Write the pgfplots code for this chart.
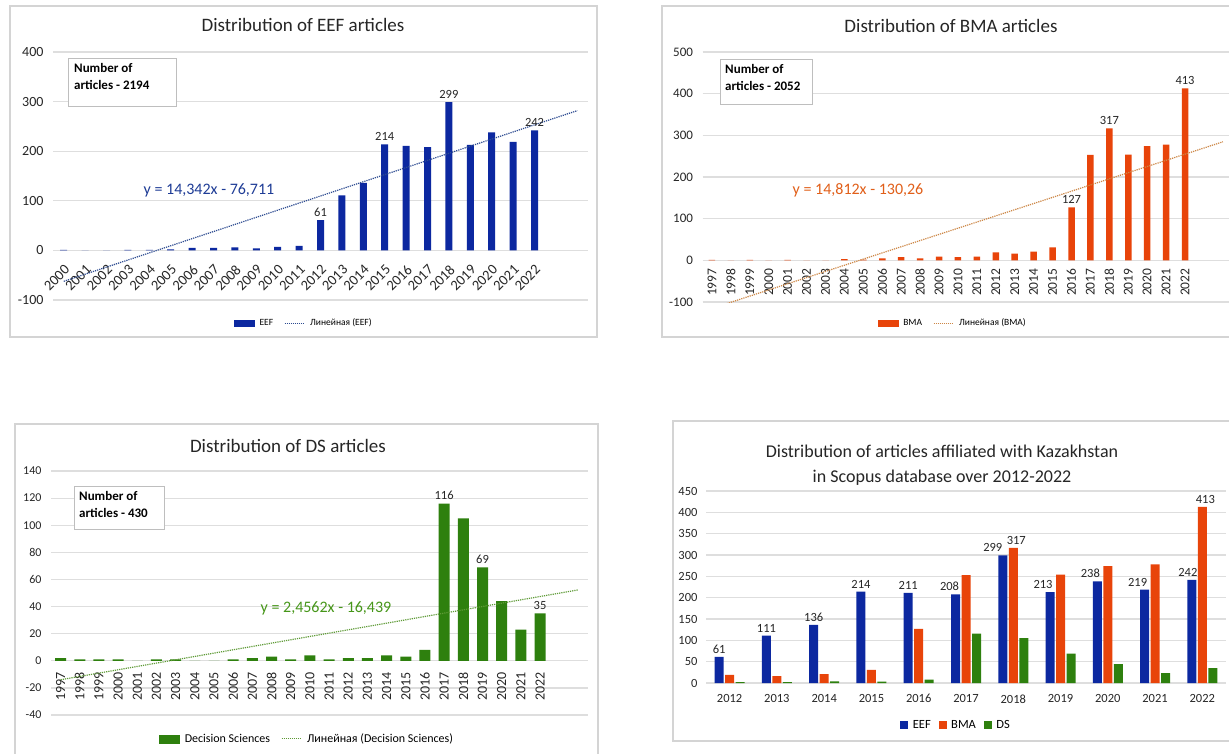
\documentclass[border=0pt]{standalone}
\usepackage{pgfplots}
\pgfplotsset{compat=1.18}
\usepackage{pgfplotstable}
\usepackage{fontspec}
\setmainfont{Carlito}

\definecolor{eefblue}{RGB}{12,40,160}
\definecolor{bmaor}{RGB}{232,68,10}
\definecolor{dsgreen}{RGB}{46,128,14}
\definecolor{eeftr}{RGB}{45,75,145}
\definecolor{bmatr}{RGB}{205,135,70}
\definecolor{dstr}{RGB}{95,155,55}
\definecolor{eefeq}{RGB}{30,60,150}
\definecolor{bmaeq}{RGB}{225,95,25}
\definecolor{dseq}{RGB}{70,150,25}
\definecolor{gridc}{RGB}{222,222,222}
\definecolor{framec}{RGB}{212,212,212}
\definecolor{boxc}{RGB}{190,190,190}

\pgfplotstableread{
x y s
2000 1 0
2001 0 0
2002 0 0
2003 1 0
2004 1 0
2005 2 0
2006 5 0
2007 5 0
2008 6 0
2009 4 0
2010 7 0
2011 9 0
2012 61 1
2013 111 0
2014 136 0
2015 214 1
2016 211 0
2017 208 0
2018 299 1
2019 213 0
2020 238 0
2021 219 0
2022 242 1
}\eeftab

\pgfplotstableread{
x y s
1997 1 0
1998 0 0
1999 1 0
2000 0 0
2001 1 0
2002 0 0
2003 0 0
2004 3 0
2005 2 0
2006 5 0
2007 8 0
2008 5 0
2009 9 0
2010 8 0
2011 9 0
2012 19 0
2013 16 0
2014 21 0
2015 31 0
2016 127 1
2017 253 0
2018 317 1
2019 254 0
2020 274 0
2021 278 0
2022 413 1
}\bmatab

\pgfplotstableread{
x y s
1997 2 0
1998 1 0
1999 1 0
2000 1 0
2001 0 0
2002 1 0
2003 1 0
2004 0 0
2005 0 0
2006 1 0
2007 2 0
2008 3 0
2009 1 0
2010 4 0
2011 1 0
2012 2 0
2013 2 0
2014 4 0
2015 3 0
2016 8 0
2017 116 1
2018 105 0
2019 69 1
2020 44 0
2021 23 0
2022 35 1
}\dstab

\pgfplotstableread{
x eef bma ds bs dx
2012 61 19 2 0 -10.5
2013 111 16 2 0 -10.5
2014 136 21 4 0 -10.5
2015 214 31 3 0 -10.5
2016 211 127 8 0 -10.5
2017 208 253 116 0 -16.5
2018 299 317 105 1 -20.5
2019 213 254 69 0 -17.5
2020 238 274 44 0 -17.5
2021 219 278 23 0 -17.5
2022 242 413 35 1 -14.5
}\alltab

\pgfplotsset{
  base/.style={
    scale only axis, enlargelimits=false, clip=true,
    anchor=south west,
    axis line style={draw=none}, tick style={draw=none}, major tick length=0pt,
    ymajorgrids, major grid style={gridc, line width=1.2pt},
    /pgf/number format/.cd, 1000 sep={}, assume math mode=true, /pgfplots/.cd,
    ticklabel style={text=black!85},
    every node near coord/.append style={font=\fontsize{12.5}{15}\selectfont, text=black!85},
    legend style={draw=none, fill=none, anchor=center, legend columns=-1,
      /tikz/every odd column/.append style={column sep=3pt},
      /tikz/every even column/.append style={column sep=9pt}},
    legend cell align=left,
  },
  lab/.style 2 args={point meta={\thisrow{#1}*\thisrow{#2}},
    nodes near coords={\pgfmathfloatifflags{\pgfplotspointmeta}{0}{}{\pgfmathprintnumber{\pgfplotspointmeta}}}},
}

\begin{document}
\begin{tikzpicture}
\useasboundingbox (0pt,0pt) rectangle (1229pt,-753pt);
\fill[white] (0pt,0pt) rectangle (1229pt,-753pt);
\draw[framec, line width=1.2pt] (10pt,-6pt) rectangle (597pt,-337pt);
\draw[framec, line width=1.2pt] (662pt,-6pt) rectangle (1245pt,-337pt);
\draw[framec, line width=1.2pt] (15pt,-424pt) rectangle (598pt,-765pt);
\draw[framec, line width=1.2pt] (673pt,-421pt) rectangle (1245pt,-741pt);

% ---------------- EEF ----------------
\begin{axis}[base, at={(53pt,-300pt)}, width=535pt, height=248pt,
  xmin=1999.5, xmax=2024.5, ymin=-100, ymax=400, ytick={-100,0,...,400},
  xtick={2000,...,2022},
  xticklabel style={rotate=45, anchor=north east, font=\fontsize{14.5}{16}\selectfont},
  xticklabel shift=-41pt,
  yticklabel style={font=\fontsize{14}{16}\selectfont},
  yticklabel shift=6pt,
  legend style={at={(0.469,-0.093)}, font=\fontsize{9.5}{11}\selectfont},
]
\addlegendimage{legend image code/.code={\fill[eefblue] (0pt,-3pt) rectangle (20pt,3pt);}}
\addlegendentry{EEF}
\addlegendimage{legend image code/.code={\draw[eeftr, densely dotted, line width=1pt] (0pt,0pt) -- (20pt,0pt);}}
\addlegendentry{Линейная (EEF)}
\addplot[ybar, bar width=7pt, bar shift=0pt, fill=eefblue, draw=none, forget plot, lab={y}{s}] table[x=x,y=y]{\eeftab};
\addplot[eeftr, densely dotted, line width=1.2pt, forget plot] coordinates {(2000,-62.369) (2024,281.839)};
\end{axis}

% ---------------- BMA ----------------
\begin{axis}[base, at={(702.5pt,-302pt)}, width=527pt, height=250pt,
  xmin=1996.5, xmax=2024.35, ymin=-100, ymax=500, ytick={-100,0,...,500},
  xtick={1997,...,2022},
  xticklabel style={rotate=90, anchor=east, font=\fontsize{13.5}{15}\selectfont},
  xticklabel shift=-37pt,
  yticklabel style={font=\fontsize{13}{15}\selectfont},
  yticklabel shift=6pt,
  legend style={at={(0.475,-0.084)}, font=\fontsize{9.5}{11}\selectfont},
]
\addlegendimage{legend image code/.code={\fill[bmaor] (0pt,-3pt) rectangle (20pt,3pt);}}
\addlegendentry{BMA}
\addlegendimage{legend image code/.code={\draw[bmatr, densely dotted, line width=1pt] (0pt,0pt) -- (20pt,0pt);}}
\addlegendentry{Линейная (BMA)}
\addplot[ybar, bar width=6.5pt, bar shift=0pt, fill=bmaor, draw=none, forget plot, lab={y}{s}] table[x=x,y=y]{\bmatab};
\addplot[bmatr, densely dotted, line width=1.2pt, forget plot] coordinates {(1997,-115.448) (2024,284.476)};
\end{axis}

% ---------------- DS ----------------
\begin{axis}[base, at={(51pt,-715pt)}, width=537pt, height=244pt,
  xmin=1996.5, xmax=2024.5, ymin=-40, ymax=140, ytick={-40,-20,...,140},
  xtick={1997,...,2022},
  xticklabel style={rotate=90, anchor=east, font=\fontsize{14}{16}\selectfont},
  xticklabel shift=-46pt,
  yticklabel style={font=\fontsize{12}{14}\selectfont},
  yticklabel shift=6pt,
  legend style={at={(0.477,-0.098)}, font=\fontsize{12}{14}\selectfont},
]
\addlegendimage{legend image code/.code={\fill[dsgreen] (0pt,-4pt) rectangle (20pt,4pt);}}
\addlegendentry{Decision Sciences}
\addlegendimage{legend image code/.code={\draw[dstr, densely dotted, line width=1pt] (0pt,0pt) -- (20pt,0pt);}}
\addlegendentry{Линейная (Decision Sciences)}
\addplot[ybar, bar width=11pt, bar shift=0pt, fill=dsgreen, draw=none, forget plot, lab={y}{s}] table[x=x,y=y]{\dstab};
\addplot[dstr, densely dotted, line width=1.2pt, forget plot] coordinates {(1997,-13.983) (2024,52.335)};
\end{axis}

% ---------------- ALL ----------------
\begin{axis}[base, at={(706pt,-683pt)}, width=520pt, height=192pt,
  xmin=2011.5, xmax=2022.5, ymin=0, ymax=450, ytick={0,50,...,450},
  xtick={2012,...,2022},
  xticklabel style={font=\fontsize{12.5}{15}\selectfont},
  xticklabel shift=8pt,
  yticklabel style={font=\fontsize{12.5}{15}\selectfont},
  yticklabel shift=5pt,
  legend style={at={(0.481,-0.219)}, font=\fontsize{12.5}{15}\selectfont,
    /tikz/every odd column/.append style={column sep=3pt},
    /tikz/every even column/.append style={column sep=6pt}},
]
\addlegendimage{legend image code/.code={\fill[eefblue] (0pt,-3.5pt) rectangle (7pt,3.5pt);}}
\addlegendentry{EEF}
\addlegendimage{legend image code/.code={\fill[bmaor] (0pt,-3.5pt) rectangle (7pt,3.5pt);}}
\addlegendentry{BMA}
\addlegendimage{legend image code/.code={\fill[dsgreen] (0pt,-3.5pt) rectangle (7pt,3.5pt);}}
\addlegendentry{DS}
\addplot[ybar, bar width=9pt, bar shift=-10.5pt, fill=eefblue, draw=none, forget plot,
  nodes near coords, visualization depends on={\thisrow{dx}\as\labdx},
  every node near coord/.append style={xshift=\labdx pt}] table[x=x,y=eef]{\alltab};
\addplot[ybar, bar width=9pt, bar shift=0pt, fill=bmaor, draw=none, forget plot, lab={bma}{bs},
  every node near coord/.append style={xshift=3pt}] table[x=x,y=bma]{\alltab};
\addplot[ybar, bar width=9pt, bar shift=10.5pt, fill=dsgreen, draw=none, forget plot] table[x=x,y=ds]{\alltab};
\end{axis}

% titles
\node[font=\fontsize{19}{23}\selectfont, text=black!85] at (303pt,-25pt) {Distribution of EEF articles};
\node[font=\fontsize{19}{23}\selectfont, text=black!85] at (951pt,-26pt) {Distribution of BMA articles};
\node[font=\fontsize{19}{23}\selectfont, text=black!85] at (288pt,-446pt) {Distribution of DS articles};
\node[font=\fontsize{18}{25}\selectfont, text=black!85, align=center] at (942pt,-465pt) {Distribution of articles affiliated with Kazakhstan\\in Scopus database over 2012-2022};

% equations
\node[font=\fontsize{16}{19}\selectfont, text=eefeq] at (209pt,-190pt) {y = 14,342x - 76,711};
\node[font=\fontsize{16}{19}\selectfont, text=bmaeq] at (858pt,-190pt) {y = 14,812x - 130,26};
\node[font=\fontsize{16}{19}\selectfont, text=dseq] at (326pt,-608pt) {y = 2,4562x - 16,439};

% count boxes
\draw[boxc, fill=white, line width=1pt] (68pt,-58pt) rectangle (176pt,-106pt);
\node[font=\bfseries\fontsize{13}{17.5}\selectfont, anchor=north west, align=left, inner sep=0pt] at (74pt,-63pt) {Number of\\articles - 2194};
\draw[boxc, fill=white, line width=1pt] (720pt,-59pt) rectangle (812pt,-104pt);
\node[font=\bfseries\fontsize{13}{17.5}\selectfont, anchor=north west, align=left, inner sep=0pt] at (725pt,-64pt) {Number of\\articles - 2052};
\draw[boxc, fill=white, line width=1pt] (74pt,-486pt) rectangle (164pt,-529pt);
\node[font=\bfseries\fontsize{13}{17.5}\selectfont, anchor=north west, align=left, inner sep=0pt] at (79pt,-491pt) {Number of\\articles - 430};
\end{tikzpicture}
\end{document}
